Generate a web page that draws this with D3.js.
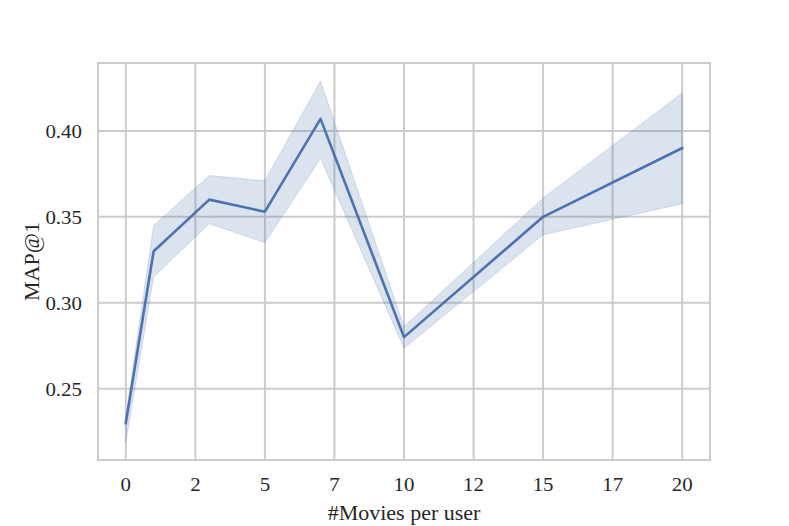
<!DOCTYPE html>
<html>
<head>
<meta charset="utf-8">
<script src="https://cdn.jsdelivr.net/npm/d3@7"></script>
<style>
  html, body { margin: 0; padding: 0; background: #ffffff; }
  svg { display: block; }
  text { font-family: "Liberation Serif", "DejaVu Serif", serif; fill: #262626; }
</style>
</head>
<body>
<svg id="chart" width="789" height="526"></svg>
<script>
// ---- data ----
const moviesPerUser = [0, 1, 3, 5, 7, 10, 15, 20];
const mapAt1       = [0.230, 0.330, 0.360, 0.353, 0.407, 0.280, 0.350, 0.390];
const ciLower      = [0.219, 0.315, 0.346, 0.335, 0.384, 0.2735, 0.3395, 0.3576];
const ciUpper      = [0.234, 0.345, 0.374, 0.371, 0.429, 0.286, 0.361, 0.422];
const xTicks       = [0, 2.5, 5, 7.5, 10, 12.5, 15, 17.5, 20];
const yTicks       = [0.25, 0.30, 0.35, 0.40];
const xLabel = "#Movies per user";
const yLabel = "MAP@1";

// ---- layout ----
const svg = d3.select("#chart");
const pLeft = 98, pRight = 710, pTop = 63, pBottom = 460;
const gridColor = "#cccccc";
const lineColor = "#4c72b0";
const tickFont = 19, tickStretch = 1.1, labelFont = 22;

const yMin = d3.min(ciLower), yMax = d3.max(ciUpper);
const yPad = (yMax - yMin) * 0.05;
const x = d3.scaleLinear().domain([-1, 21]).range([pLeft, pRight]);
const y = d3.scaleLinear().domain([yMin - yPad, yMax + yPad]).range([pBottom, pTop]);

// grid
const g = svg.append("g");
g.selectAll(".vgrid").data(xTicks).enter().append("line")
  .attr("x1", d => x(d)).attr("x2", d => x(d))
  .attr("y1", pTop).attr("y2", pBottom)
  .attr("stroke", gridColor).attr("stroke-width", 2);
g.selectAll(".hgrid").data(yTicks).enter().append("line")
  .attr("x1", pLeft).attr("x2", pRight)
  .attr("y1", d => y(d)).attr("y2", d => y(d))
  .attr("stroke", gridColor).attr("stroke-width", 2);

// band
const rows = moviesPerUser.map((m, i) => ({m, v: mapAt1[i], lo: ciLower[i], hi: ciUpper[i]}));
const area = d3.area().x(d => x(d.m)).y0(d => y(d.lo)).y1(d => y(d.hi));
svg.append("path").datum(rows).attr("d", area)
  .attr("fill", lineColor).attr("fill-opacity", 0.2)
  .attr("stroke", lineColor).attr("stroke-opacity", 0.2).attr("stroke-width", 1);

// line
const line = d3.line().x(d => x(d.m)).y(d => y(d.v));
svg.append("path").datum(rows).attr("d", line)
  .attr("fill", "none").attr("stroke", lineColor)
  .attr("stroke-width", 2.6).attr("stroke-linejoin", "round").attr("stroke-linecap", "square");

// frame
svg.append("rect").attr("x", pLeft).attr("y", pTop)
  .attr("width", pRight - pLeft).attr("height", pBottom - pTop)
  .attr("fill", "none").attr("stroke", gridColor).attr("stroke-width", 2);

// tick labels
svg.selectAll(".xt").data(xTicks).enter().append("text")
  .attr("transform", d => `translate(${x(d)},491) scale(${tickStretch},1)`)
  .attr("text-anchor", "middle").attr("font-size", tickFont)
  .text(d => d3.format("d")(Math.floor(d)));
svg.selectAll(".yt").data(yTicks).enter().append("text")
  .attr("transform", d => `translate(82,${y(d) + 7.5}) scale(${tickStretch},1)`)
  .attr("text-anchor", "end").attr("font-size", tickFont)
  .text(d => d3.format(".2f")(d));

// axis labels
svg.append("text").attr("x", (pLeft + pRight) / 2).attr("y", 520)
  .attr("text-anchor", "middle").attr("font-size", labelFont).text(xLabel);
svg.append("text")
  .attr("transform", `translate(39, ${(pTop + pBottom) / 2}) rotate(-90)`)
  .attr("text-anchor", "middle").attr("font-size", labelFont).text(yLabel);
</script>
</body>
</html>
